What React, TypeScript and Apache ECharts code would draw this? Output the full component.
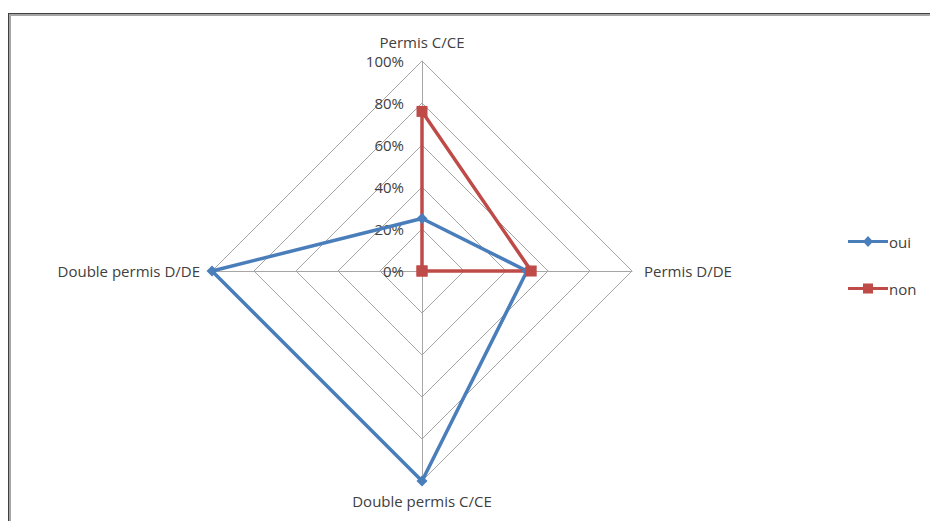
import React, { useEffect, useRef } from "react";
import * as echarts from "echarts";

// Indicators listed counter-clockwise from the top (ECharts radar order)
const indicators = ["Permis C/CE", "Double permis D/DE", "Double permis C/CE", "Permis D/DE"];
const ouiValues = [25, 100, 100, 50];
const nonValues = [76, 0, 0, 52];
const seriesNames = ["oui", "non"];

const FONT = "Open Sans";

export default function App() {
  const ref = useRef<HTMLDivElement>(null);
  useEffect(() => {
    document.body.style.margin = "0";
    const chart = echarts.init(ref.current!, null, { renderer: "svg" });
    chart.setOption({
      animation: false,
      backgroundColor: "#ffffff",
      legend: {
        orient: "vertical",
        left: 843,
        top: 229,
        itemWidth: 40,
        itemHeight: 11,
        itemGap: 32,
        textStyle: { fontFamily: FONT, fontSize: 15, color: "#404040", padding: [0, 0, 0, -4] },
        data: [
          {
            name: seriesNames[0],
            icon: "path://M0,4 L40,4 L40,7 L0,7 Z M20,0 L25,5.5 L20,11 L15,5.5 Z",
            itemStyle: { color: "#4a7ebb" },
          },
          {
            name: seriesNames[1],
            icon: "path://M0,4 L40,4 L40,7 L0,7 Z M15,0.5 L25,0.5 L25,10.5 L15,10.5 Z",
            itemStyle: { color: "#be4b48" },
          },
        ],
      },
      radar: {
        center: [422, 271],
        radius: 210,
        shape: "polygon",
        startAngle: 90,
        splitNumber: 5,
        axisName: {
          fontFamily: FONT,
          fontSize: 15,
          color: "#404040",
        },
        nameGap: 12,
        axisLine: { show: true, lineStyle: { color: "#a6a6a6", width: 1 } },
        splitLine: { show: true, lineStyle: { color: "#a6a6a6", width: 1 } },
        splitArea: { show: false },
        axisTick: { show: false },
        axisLabel: { show: false },
        indicator: indicators.map((name, i) => ({
          name,
          min: 0,
          max: 100,
          ...(i === 0
            ? {
                axisLabel: {
                  show: true,
                  fontFamily: FONT,
                  fontSize: 15,
                  color: "#404040",
                  margin: 18,
                  formatter: "{value}%",
                },
              }
            : {}),
        })),
      },
      series: [
        {
          type: "radar",
          symbolSize: 10,
          data: [
            {
              name: seriesNames[0],
              value: ouiValues,
              symbol: "diamond",
              symbolSize: 11,
              lineStyle: { color: "#4a7ebb", width: 3.5 },
              itemStyle: { color: "#4a7ebb" },
            },
            {
              name: seriesNames[1],
              value: nonValues,
              symbol: "rect",
              symbolSize: 11,
              lineStyle: { color: "#be4b48", width: 3.5 },
              itemStyle: { color: "#be4b48" },
            },
          ],
        },
      ],
      graphic: [
        { type: "line", shape: { x1: 8, y1: 13.5, x2: 930, y2: 13.5 }, style: { stroke: "#404040", lineWidth: 1 } },
        { type: "line", shape: { x1: 9, y1: 15, x2: 930, y2: 15 }, style: { stroke: "#a6a6a6", lineWidth: 2 } },
        { type: "line", shape: { x1: 8.5, y1: 13, x2: 8.5, y2: 521 }, style: { stroke: "#404040", lineWidth: 1 } },
        { type: "line", shape: { x1: 10, y1: 15, x2: 10, y2: 521 }, style: { stroke: "#a6a6a6", lineWidth: 2 } },
      ],
    });
    return () => chart.dispose();
  }, []);
  return <div ref={ref} style={{ width: 930, height: 521 }} />;
}
